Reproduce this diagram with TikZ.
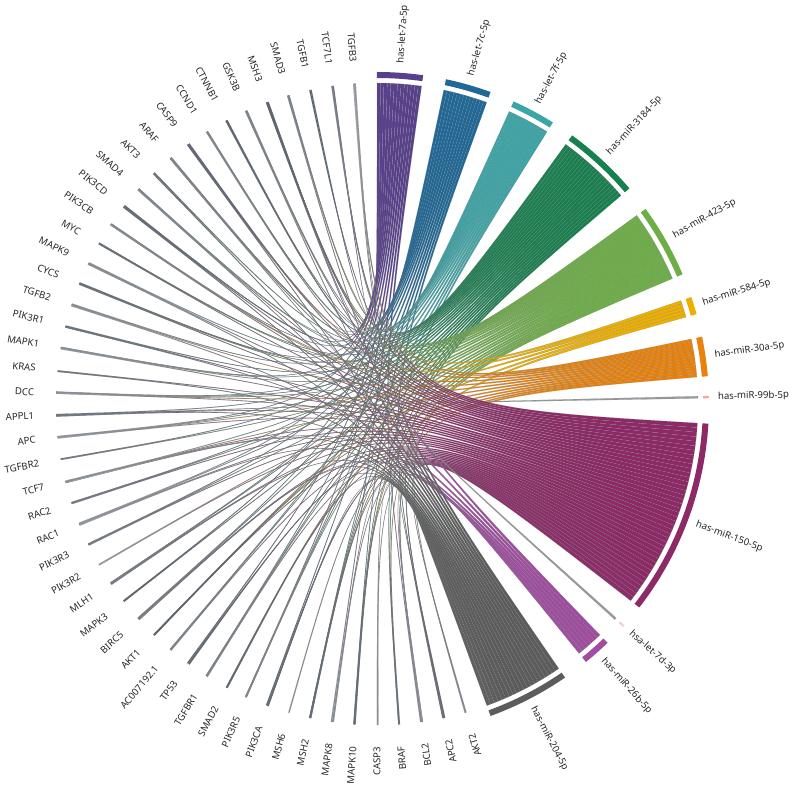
\documentclass[tikz,border=0pt]{standalone}
\usepackage{fontspec}
\setmainfont{Noto Sans}
\usepackage{xcolor}
\usetikzlibrary{calc}

\definecolor{c7a}{HTML}{58408C}
\definecolor{c7c}{HTML}{1F6897}
\definecolor{c7f}{HTML}{3AA6A8}
\definecolor{c3184}{HTML}{17804F}
\definecolor{c423}{HTML}{6DAF46}
\definecolor{c584}{HTML}{EDB000}
\definecolor{c30a}{HTML}{E8820C}
\definecolor{c99b}{HTML}{F4A6A6}
\definecolor{c150}{HTML}{8C2966}
\definecolor{c7d}{HTML}{F3D0D0}
\definecolor{c26b}{HTML}{A04DA0}
\definecolor{c204}{HTML}{5C5C5C}
\definecolor{cgrey}{HTML}{9A9A9A}
\definecolor{geneDark}{HTML}{3F4B58}
\definecolor{geneLight}{HTML}{C3C9CF}
\definecolor{slateMid}{HTML}{8E98A2}

\begin{document}
\begin{tikzpicture}[x=1pt, y=1pt,
    genelabel/.style={font=\fontsize{9.6}{11}\selectfont, inner sep=0pt, text=black!85, anchor=east},
    mirlabel/.style={font=\fontsize{9.6}{11}\selectfont, inner sep=0pt, text=black!85, anchor=west},
    ribbon/.style={draw=black!55, draw opacity=0.6, line width=0.2pt},
    mirbar/.style={line width=0pt}
]
\useasboundingbox (-377,-382) rectangle (416,404);

% gene labels, 4 degrees apart
\foreach \gname [count=\j from 0] in {TGFB3,TCF7L1,TGFB1,SMAD3,MSH3,GSK3B,CTNNB1,CCND1,CASP9,ARAF,AKT3,SMAD4,PIK3CD,PIK3CB,MYC,MAPK9,CYCS,TGFB2,PIK3R1,MAPK1,KRAS,DCC,APPL1,APC,TGFBR2,TCF7,RAC2,RAC1,PIK3R3,PIK3R2,MLH1,MAPK3,BIRC5,AKT1,AC007192.1,TP53,TGFBR1,SMAD2,PIK3R5,PIK3CA,MSH6,MSH2,MAPK8,MAPK10,CASP3,BRAF,BCL2,APC2,AKT2} {
  \pgfmathsetmacro\ga{94+4*\j}
  \pgfmathsetmacro\gr{\ga-180}
  \node[genelabel, rotate=\gr] (gene\j) at (\ga:343) {\gname};
}

% miRNA ribbons, bars and labels
\foreach \lo/\hi/\col/\lc/\n/\fr/\lab [count=\m] in {
    82/90/c7a/c7a/13/0.3/has-let-7a-5p,
    70/78/c7c/c7c/13/0.6/has-let-7c-5p,
    58/65.7/c7f/c7f/13/0.1/has-let-7f-5p,
    40.5/54/c3184/c3184/22/0.5/has-miR-3184-5p,
    23/36/c423/c423/20/0.8/has-miR-423-5p,
    15.7/18.8/c584/c584/5/0.4/has-miR-584-5p,
    4.8/11.7/c30a/c30a/12/0.2/has-miR-30a-5p,
    1.0/1.4/c99b/cgrey/1/0.45/has-miR-99b-5p,
    -37.8/-3.4/c150/c150/42/0.5/has-miR-150-5p,
    -42.2/-41.8/c7d/cgrey/1/0.2/hsa-let-7d-3p,
    -51/-46/c26b/c26b/7/0.7/has-miR-26b-5p,
    -70/-55.5/c204/c204/20/0.3/has-miR-204-5p} {
  \pgfmathsetmacro\w{(\hi-\lo)/\n}
  \foreach \k in {1,...,\n} {
    \pgfmathsetmacro\aH{\hi-(\k-1)*\w-0.01}
    \pgfmathsetmacro\aL{\hi-\k*\w+0.01}
    \pgfmathsetmacro\aM{(\aH+\aL)/2}
    \pgfmathtruncatemacro\j{floor(\fr*49/\n+(\k-1)*49/\n)}
    \pgfmathsetmacro\g{94+4*\j+(\m-6.5)*0.03}
    \pgfmathsetmacro\sA{\g-0.1}
    \pgfmathsetmacro\sB{\g+0.1}
    \pgfmathsetmacro\sang{atan2(sin(\aM)-sin(\g),cos(\aM)-cos(\g))+90}
    \pgfmathtruncatemacro\tone{25+mod(\j*29,60)}
    \path[ribbon, left color=geneDark!\tone!geneLight, right color=\lc, middle color=\lc!90!slateMid, shading angle=\sang]
      (\sA:321) arc[start angle=\sA, end angle=\sB, radius=321]
      .. controls (0,0) .. (\aL:321)
      arc[start angle=\aL, end angle=\aH, radius=321]
      .. controls (0,0) .. (\sA:321) -- cycle;
  }
  \fill[mirbar, \col] (\lo:326) arc[start angle=\lo, end angle=\hi, radius=326]
    -- (\hi:332) arc[start angle=\hi, end angle=\lo, radius=332] -- cycle;
  \pgfmathsetmacro\ma{(\lo+\hi)/2}
  \node[mirlabel, rotate=\ma] (mir\m) at (\ma:341) {\lab};
}
\end{tikzpicture}
\end{document}
